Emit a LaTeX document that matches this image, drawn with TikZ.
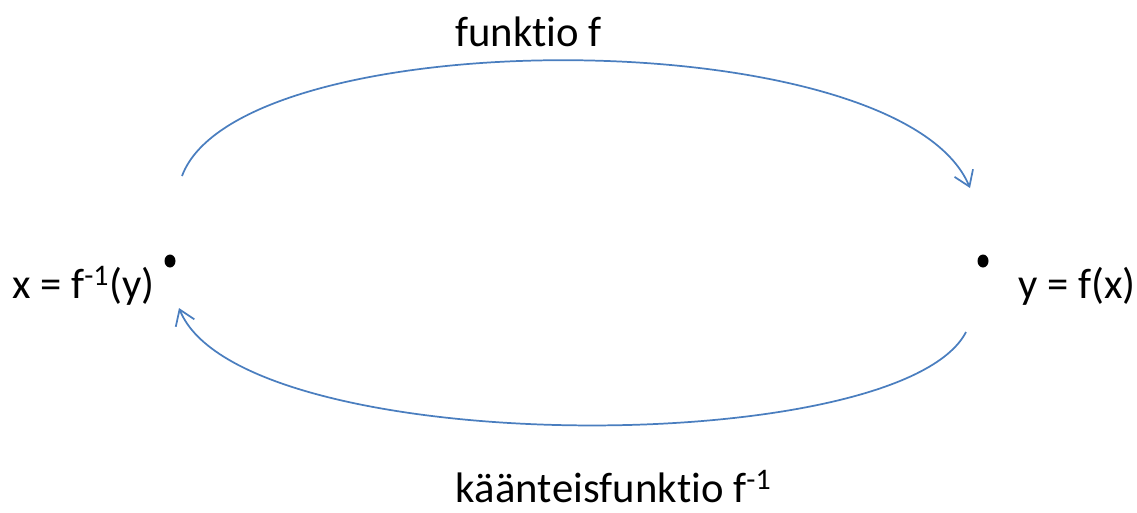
\documentclass[tikz,border=0pt]{standalone}
\usepackage{fontspec}
\setmainfont{Carlito}[RawFeature={-liga;-kern}]
\usetikzlibrary{arrows.meta}
\definecolor{arcblue}{HTML}{4A7EBF}
\tikzset{
  arc/.style={draw=arcblue, line width=1.3pt, -{Straight Barb[length=11pt,width=15pt,line width=1.3pt]}},
  lbl/.style={font=\fontsize{32}{38}\selectfont, inner sep=0pt, anchor=base west}
}
\begin{document}
\begin{tikzpicture}[x=0.75pt,y=-0.75pt]
\useasboundingbox (0,0) rectangle (1137,512);
\fill[black] (170,261) ellipse [x radius=5.5, y radius=6.5];
\fill[black] (983,261) ellipse [x radius=5.5, y radius=6.5];
\coordinate (a1) at (182,176);
\coordinate (a2) at (970,188);
\coordinate (b1) at (966,332);
\coordinate (b2) at (179,308);
\draw[arc] (a1) .. controls (240,20) and (900,20) .. (a2);
\draw[arc] (b1) .. controls (900,460) and (240,460) .. (b2);
\node[lbl] (top) at (455,46) {funktio f};
\node[lbl] (bot) at (455,502) {käänteisfunktio f\textsuperscript{-1}};
\node[lbl] (lx) at (12,298) {x = f\textsuperscript{-1}(y)};
\node[lbl] (ry) at (1018,298) {y = f(x)};
\end{tikzpicture}
\end{document}
